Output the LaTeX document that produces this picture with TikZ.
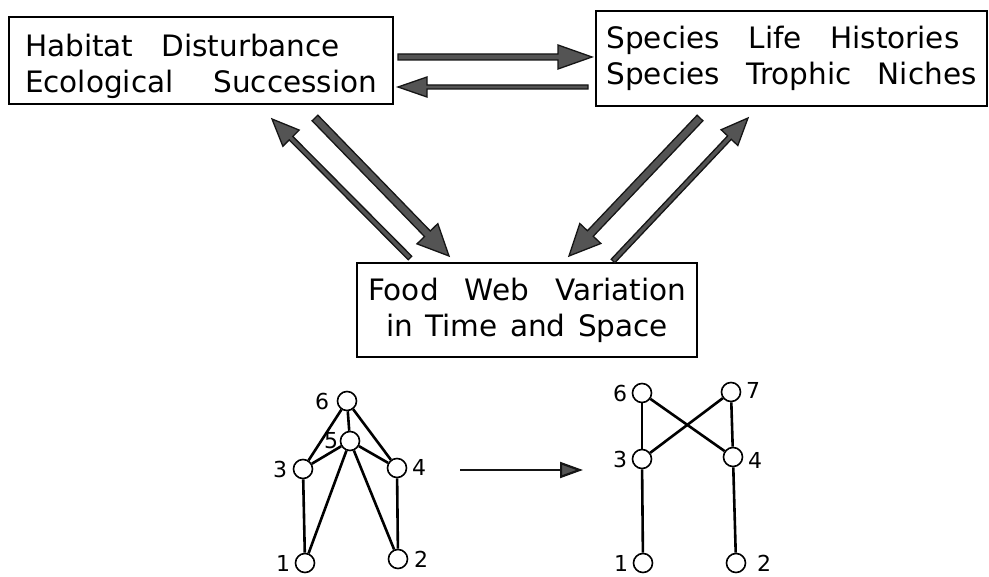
\documentclass[tikz,border=0pt]{standalone}
\usepackage{fontspec}
\setmainfont{DejaVu Sans}
\usetikzlibrary{calc,arrows.meta}
\definecolor{arrfill}{HTML}{545454}
\definecolor{arrline}{HTML}{151515}
\tikzset{
  box/.style={draw=black, line width=1.8pt, rectangle, inner sep=0pt},
  boxtxt/.style={font=\fontsize{29.5}{36}\selectfont},
  fatarrow/.style={fill=arrfill, draw=arrline, line width=1.3pt, line join=miter},
  vtx/.style={circle, draw=black, fill=white, line width=1.6pt, minimum size=19pt, inner sep=0pt},
  num/.style={font=\fontsize{22}{26}\selectfont, inner sep=0pt},
  edge/.style={line width=2.6pt, black},
  thinarrow/.style={line width=2.2pt, arrline, -{Triangle[length=23pt,width=16pt,fill=arrfill]}}
}
\newcommand\fatarr[5]{%
  \coordinate (hb) at ($(#2)!#4!(#1)$);
  \filldraw[fatarrow] ($(#1)!#3!90:(#2)$) -- ($(hb)!#3!90:(#2)$) -- ($(hb)!#5!90:(#2)$) -- (#2)
    -- ($(hb)!#5!-90:(#2)$) -- ($(hb)!#3!-90:(#2)$) -- ($(#1)!#3!-90:(#2)$) -- cycle;
}
\begin{document}
\begin{tikzpicture}[x=1pt,y=-1pt]
\useasboundingbox (0,0) rectangle (989,577);

% boxes
\node[box, boxtxt, minimum width=384pt, minimum height=87pt, align=left] (hab) at (201,60.5)
  {\rule{0pt}{35pt}\makebox[315pt][s]{Habitat Disturbance}\\\makebox[352pt][s]{Ecological Succession}};
\node[box, boxtxt, minimum width=391pt, minimum height=95pt, align=left] (spe) at (791.5,58.5)
  {\fontsize{29.5}{34}\selectfont\makebox[353pt][s]{Species Life Histories}\\\makebox[370pt][s]{Species Trophic Niches}};
\node[box, boxtxt, minimum width=340pt, minimum height=94pt, align=center] (fw) at (527,310)
  {\makebox[318pt][s]{Food Web Variation}\\\makebox[282pt][s]{in Time and Space}};

% arrow end points
\coordinate (a1s) at (398,57);  \coordinate (a1e) at (592,57);
\coordinate (a2s) at (588,87);  \coordinate (a2e) at (398,87);
\coordinate (a3s) at (410,258); \coordinate (a3e) at (272,119);
\coordinate (a4s) at (315,118); \coordinate (a4e) at (449,256);
\coordinate (a5s) at (700,118); \coordinate (a5e) at (569,256);
\coordinate (a6s) at (613,261); \coordinate (a6e) at (748,118);

\fatarr{a1s}{a1e}{3pt}{34pt}{12pt}
\fatarr{a2s}{a2e}{2pt}{29pt}{10pt}
\fatarr{a3s}{a3e}{2.5pt}{27pt}{11.5pt}
\fatarr{a4s}{a4e}{4pt}{31pt}{14.5pt}
\fatarr{a5s}{a5e}{4pt}{31pt}{14.5pt}
\fatarr{a6s}{a6e}{2.5pt}{27pt}{11.5pt}

% left food web
\node[vtx] (L6) at (347,401) {};
\node[vtx] (L5) at (350,441) {};
\node[vtx] (L3) at (303,469) {};
\node[vtx] (L4) at (397,468) {};
\node[vtx] (L1) at (305,563) {};
\node[vtx] (L2) at (398,559) {};
\draw[edge] (L6) -- (L3);
\draw[edge] (L6) -- (L5);
\draw[edge] (L6) -- (L4);
\draw[edge] (L5) -- (L3);
\draw[edge] (L5) -- (L4);
\draw[edge] (L5) -- (L1);
\draw[edge] (L5) -- (L2);
\draw[edge] (L3) -- (L1);
\draw[edge] (L4) -- (L2);
\node[num] (l6) at (322,401) {6};
\node[num] (l5) at (331,441) {5};
\node[num] (l3) at (280,469) {3};
\node[num] (l4) at (419,467) {4};
\node[num] (l1) at (283,563) {1};
\node[num] (l2) at (421,559) {2};

% middle arrow
\coordinate (ma) at (460,470);
\coordinate (mb) at (583,470);
\draw[thinarrow] (ma) -- (mb);

% right food web
\node[vtx] (R6) at (642,393) {};
\node[vtx] (R7) at (731,392) {};
\node[vtx] (R3) at (642,459) {};
\node[vtx] (R4) at (733,457) {};
\node[vtx] (R1) at (643,563) {};
\node[vtx] (R2) at (736,563) {};
\draw[edge] (R6) -- (R3);
\draw[edge] (R6) -- (R4);
\draw[edge] (R7) -- (R3);
\draw[edge] (R7) -- (R4);
\draw[edge] (R3) -- (R1);
\draw[edge] (R4) -- (R2);
\node[num] (r6) at (620,393) {6};
\node[num] (r7) at (753,390) {7};
\node[num] (r3) at (620,459) {3};
\node[num] (r4) at (755,460) {4};
\node[num] (r1) at (621,563) {1};
\node[num] (r2) at (764,563) {2};
\end{tikzpicture}
\end{document}
